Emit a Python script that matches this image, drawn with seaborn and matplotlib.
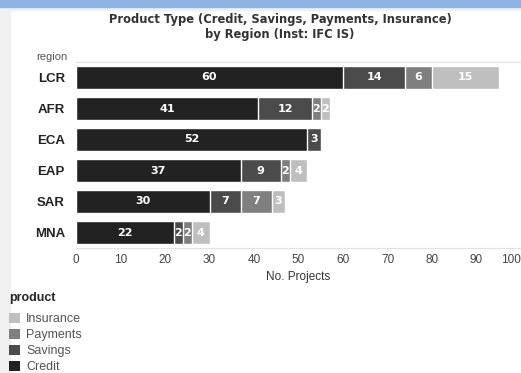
import matplotlib
matplotlib.use("Agg")
import matplotlib.pyplot as plt
from matplotlib.patches import Rectangle, Patch
import seaborn as sns
import pandas as pd
import numpy as np

regions = ["LCR", "AFR", "ECA", "EAP", "SAR", "MNA"]
products = ["Credit", "Savings", "Payments", "Insurance"]
credit = [60, 41, 52, 37, 30, 22]
savings = [14, 12, 3, 9, 7, 2]
payments = [6, 2, 0, 2, 7, 2]
insurance = [15, 2, 0, 4, 3, 4]
xticks = [0, 10, 20, 30, 40, 50, 60, 70, 80, 90, 100]

colors = {"Credit": "#222222", "Savings": "#4b4b4b",
          "Payments": "#7f7f7f", "Insurance": "#bfbfbf"}


def main():
    sns.set_style("white")
    plt.rcParams["font.family"] = ["Liberation Sans", "DejaVu Sans"]

    df = pd.DataFrame({"region": regions, "Credit": credit, "Savings": savings,
                       "Payments": payments, "Insurance": insurance})
    cum = df[products].cumsum(axis=1)

    fig = plt.figure(figsize=(5.21, 3.73), dpi=100)
    fig.patch.set_facecolor("white")
    # page background bits
    fig.patches.append(Rectangle((0, 0), 10 / 521, 1, transform=fig.transFigure,
                                 color="#f0f0f0", zorder=0))
    fig.patches.append(Rectangle((0, 1 - 10 / 373), 1, 10 / 373, transform=fig.transFigure,
                                 color="#f0f0f0", zorder=0))
    fig.patches.append(Rectangle((0, 1 - 7 / 373), 1, 7 / 373, transform=fig.transFigure,
                                 color="#8db4e2", zorder=1))

    ax = fig.add_axes([76 / 521, 1 - 248 / 373, 445 / 521, 186 / 373])

    # stacked bars: draw cumulative totals from the outermost segment inwards
    for p in reversed(products):
        plot_df = pd.DataFrame({"region": regions, "value": cum[p]})
        sns.barplot(data=plot_df, x="value", y="region", order=regions,
                    color=colors[p], saturation=1, width=0.72, ax=ax,
                    errorbar=None)

    for i, r in enumerate(regions):
        start = 0
        for p in products:
            v = df.loc[i, p]
            if v > 0:
                ax.text(start + v / 2, i, str(v), ha="center", va="center",
                        color="white", fontsize=8, fontweight="bold",
                        family="DejaVu Sans")
            start += v

    ax.set_xlim(0, 100)
    ax.set_ylim(5.5, -0.5)
    ax.set_xticks(xticks)
    ax.set_xticklabels([str(t) for t in xticks])
    ax.tick_params(axis="x", length=0, labelsize=8.5, labelcolor="#444444", pad=4)
    ax.tick_params(axis="y", length=0, labelsize=9.5, pad=8)
    for lab in ax.get_yticklabels():
        lab.set_fontweight("bold")
        lab.set_color("#222222")
    ax.get_xticklabels()[-1].set_ha("right")
    ax.set_xlabel("No. Projects", fontsize=8.5, color="#333333", labelpad=4)
    ax.set_ylabel("")

    for s in ["left", "right"]:
        ax.spines[s].set_visible(False)
    for s in ["top", "bottom"]:
        ax.spines[s].set_color("#e2e2e2")
        ax.spines[s].set_linewidth(0.8)

    fig.text(52 / 521, 1 - 57 / 373, "region", fontsize=8, color="#555555",
             ha="center", va="center")
    fig.text(280 / 521, 1 - 27 / 373,
             "Product Type (Credit, Savings, Payments, Insurance)\nby Region (Inst: IFC IS)",
             ha="center", va="center", fontsize=8.3, fontweight="bold",
             color="#333333", family="DejaVu Sans", linespacing=1.25)

    handles = [Patch(facecolor=colors[p], edgecolor="none", label=p)
               for p in reversed(products)]
    leg = fig.legend(handles=handles, title="product", loc="upper left",
                     bbox_to_anchor=(8 / 521, 1 - 291 / 373), frameon=False,
                     fontsize=9, title_fontsize=9, handlelength=0.85,
                     handleheight=0.85, handletextpad=0.5, labelspacing=0.3,
                     borderaxespad=0, borderpad=0.1)
    leg.get_title().set_fontweight("bold")
    leg._legend_box.align = "left"
    leg._legend_box.sep = 6
    for t in leg.get_texts():
        t.set_color("#555555")

    fig.savefig("out.png", dpi=100)
    plt.close(fig)


if __name__ == "__main__":
    main()
